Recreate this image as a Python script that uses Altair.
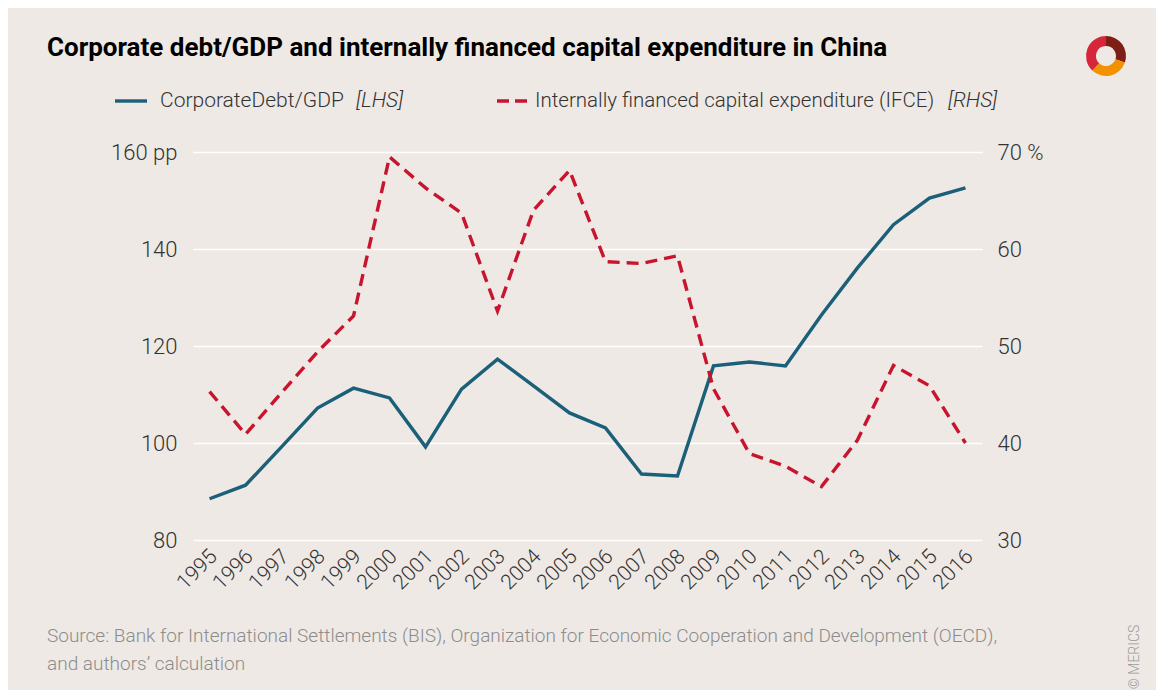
import altair as alt
import pandas as pd

years = ["1995", "1996", "1997", "1998", "1999", "2000", "2001", "2002", "2003", "2004", "2005",
         "2006", "2007", "2008", "2009", "2010", "2011", "2012", "2013", "2014", "2015", "2016"]
debt_gdp = [88.5, 91.3, 99.2, 107.2, 111.3, 109.3, 99.2, 111.1, 117.3, 111.8, 106.2,
            103.1, 93.6, 93.2, 115.9, 116.7, 115.9, 126.4, 136.1, 145.0, 150.5, 152.6]
ifce = [45.3, 40.9, 45.2, 49.4, 53.1, 69.5, 66.3, 63.7, 53.6, 64.0, 68.1,
        58.7, 58.5, 59.3, 45.6, 38.9, 37.6, 35.5, 40.3, 48.0, 45.9, 40.0]
left_ticks = [80, 100, 120, 140, 160]
right_ticks = [30, 40, 50, 60, 70]

title_text = "Corporate debt/GDP and internally financed capital expenditure in China"
legend_1 = "CorporateDebt/GDP"
legend_1_tag = "[LHS]"
legend_2 = "Internally financed capital expenditure (IFCE)"
legend_2_tag = "[RHS]"
source_lines = ["Source: Bank for International Settlements (BIS), Organization for Economic Cooperation and Development (OECD),",
                "and authors\u2019 calculation"]
copyright_text = "\u00a9 MERICS"

TEAL = "#1b5f78"
RED = "#c8142c"
BG = "#eee9e5"
TXT = "#333333"
NUM_FONT = "Roboto"
TXT_FONT = "Roboto"
TITLE_FONT = "Roboto"

df = pd.DataFrame({"year": years, "debt": debt_gdp, "ifce": ifce})
base = alt.Chart(df)

x_enc = alt.X("year:O", scale=alt.Scale(type="point", padding=0.46),
              axis=alt.Axis(title=None, labelAngle=315, labelAlign="right", labelBaseline="middle",
                            labelPadding=13, labelOffset=4, labelFontSize=21, labelFont=NUM_FONT,
                            labelFontWeight=300, labelColor=TXT, domain=False, ticks=False, grid=False))

debt_line = base.mark_line(color=TEAL, strokeWidth=3.4, strokeJoin="miter").encode(
    x=x_enc,
    y=alt.Y("debt:Q", scale=alt.Scale(domain=[80, 160], nice=False, zero=False),
            axis=alt.Axis(title=None, orient="left", values=left_ticks, grid=True, gridColor="white",
                          gridWidth=1.5, domain=False, ticks=False, labelPadding=16,
                          labelFontSize=22, labelFont=NUM_FONT, labelFontWeight=300, labelColor=TXT,
                          labelExpr="datum.value == 160 ? '160 pp' : datum.label")),
)

ifce_line = base.mark_line(color=RED, strokeWidth=3.4, strokeDash=[12, 7]).encode(
    x=x_enc,
    y=alt.Y("ifce:Q", scale=alt.Scale(domain=[30, 70], nice=False, zero=False),
            axis=alt.Axis(title=None, orient="right", values=right_ticks, grid=False,
                          domain=False, ticks=False, labelPadding=15, labelAlign="left",
                          labelFontSize=22, labelFont=NUM_FONT, labelFontWeight=300, labelColor=TXT,
                          labelExpr="datum.value == 70 ? '70 %' : datum.label")),
)

one = alt.Data(values=[{"k": 1}])


def text_layer(txt, x, y, **kw):
    return alt.Chart(one).mark_text(**kw).encode(x=alt.value(x), y=alt.value(y), text=alt.value(txt))


title = text_layer(title_text, -146, -96, align="left", baseline="alphabetic", font=TITLE_FONT,
                   fontSize=26, fontWeight="bold", color="#000000")

leg_rule1 = alt.Chart(one).mark_rule(color=TEAL, strokeWidth=3.4).encode(
    x=alt.value(-78), x2=alt.value(-46), y=alt.value(-51))
leg_rule2 = alt.Chart(one).mark_rule(color=RED, strokeWidth=3.4, strokeDash=[12, 6]).encode(
    x=alt.value(304), x2=alt.value(334), y=alt.value(-51))
leg_t1 = text_layer(legend_1, -33, -51, align="left", baseline="middle", font=TXT_FONT,
                    fontSize=21, fontWeight=300, color=TXT)
leg_t1b = text_layer(legend_1_tag, 163, -51, align="left", baseline="middle", font=TXT_FONT,
                     fontSize=21, fontWeight=300, fontStyle="italic", color=TXT)
leg_t2 = text_layer(legend_2, 342, -51, align="left", baseline="middle", font=TXT_FONT,
                    fontSize=20.5, fontWeight=300, color=TXT)
leg_t2b = text_layer(legend_2_tag, 755, -51, align="left", baseline="middle", font=TXT_FONT,
                     fontSize=21, fontWeight=300, fontStyle="italic", color=TXT)

source = text_layer(source_lines, -146, 490, align="left", baseline="alphabetic", font=TXT_FONT,
                    fontSize=19, fontWeight=300, color="#8c8c8c", lineHeight=28)
copyright = text_layer(copyright_text, 942, 505, align="center", baseline="middle", font=TXT_FONT,
                       fontSize=14, fontWeight=300, color="#9a9a9a", angle=270)

logo_parts = []
for t0, t1, col in [(0.0, 1.9, "#7d1f14"), (1.9, 3.9, "#f39200"), (3.9, 6.2832, "#d5263a")]:
    logo_parts.append(alt.Chart(one).mark_arc(theta=t0, theta2=t1, radius=20, radius2=10, color=col).encode(
        x=alt.value(913), y=alt.value(-96)))

chart = alt.layer(debt_line, ifce_line, title, leg_rule1, leg_rule2, leg_t1, leg_t1b, leg_t2, leg_t2b,
                  source, copyright, *logo_parts).resolve_scale(y="independent").properties(
    width=789, height=388,
    padding={"left": 185, "top": 144, "right": 174, "bottom": 150},
    autosize=alt.AutoSizeParams(type="none"),
    background=BG,
).configure_view(stroke=None)

chart.save("out.html", embed_options={"renderer": "svg", "actions": False})
